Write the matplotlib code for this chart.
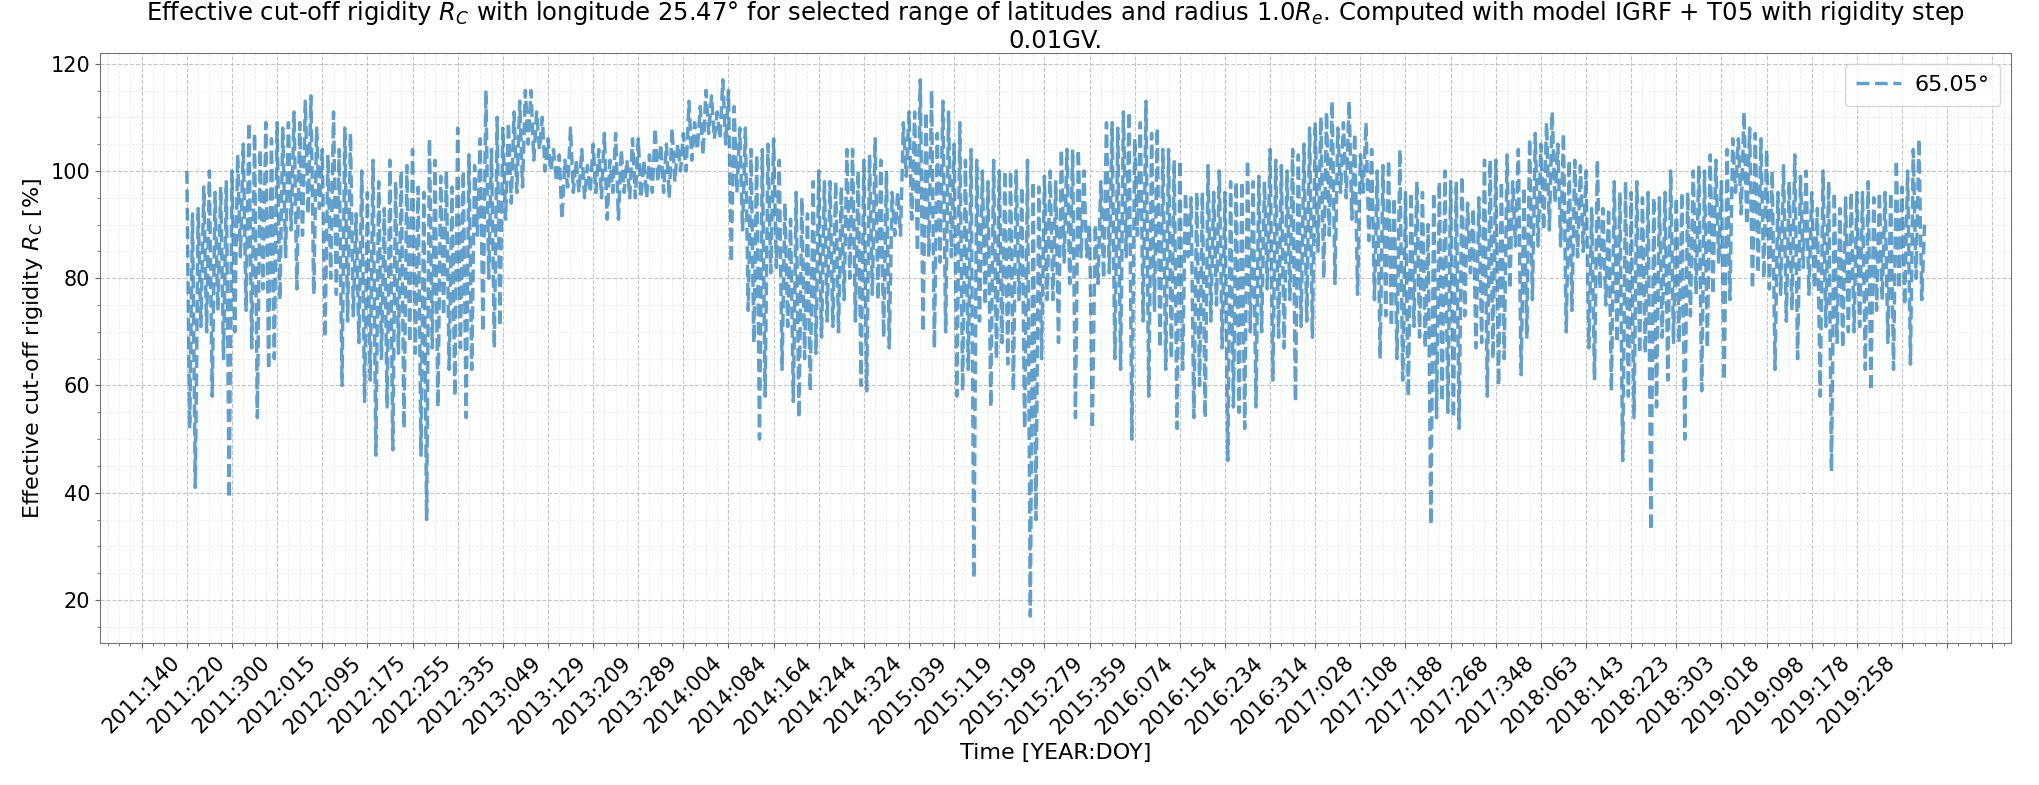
import numpy as np
import matplotlib
matplotlib.use("Agg")
import matplotlib.pyplot as plt
from matplotlib.ticker import AutoMinorLocator

# effective cut-off rigidity [%], one reading every 5 days (upper / lower swing)
step_days = 5
rc_values = [
    100, 52, 92, 41, 93, 71, 97, 70, 100, 58, 96, 74, 97, 65, 98, 39,
    100, 70, 103, 84, 105, 74, 109, 67, 107, 54, 104, 78, 109, 63, 106, 65,
    109, 76, 108, 84, 109, 89, 111, 78, 109, 88, 113, 92, 114, 77, 108, 93,
    104, 69, 103, 80, 111, 77, 104, 60, 108, 72, 107, 73, 92, 68, 100, 57,
    96, 61, 102, 47, 98, 65, 93, 56, 102, 48, 98, 66, 100, 52, 101, 68,
    104, 66, 97, 47, 96, 35, 106, 67, 102, 56, 99, 73, 100, 63, 97, 58,
    108, 67, 100, 54, 103, 63, 101, 88, 106, 70, 115, 80, 104, 67, 110, 71,
    108, 91, 109, 94, 111, 96, 113, 97, 115, 105, 115, 102, 111, 104, 110, 100,
    106, 100, 104, 98, 103, 91, 102, 97, 108, 96, 102, 96, 104, 95, 101, 96,
    105, 96, 104, 95, 107, 91, 102, 96, 107, 91, 104, 96, 102, 95, 106, 95,
    106, 95, 102, 95, 103, 96, 108, 98, 105, 96, 105, 95, 108, 98, 105, 100,
    107, 100, 113, 102, 109, 104, 112, 103, 115, 107, 114, 106, 111, 106, 117, 105,
    115, 83, 112, 96, 108, 89, 108, 74, 104, 68, 103, 50, 104, 58, 105, 81,
    106, 82, 102, 63, 94, 71, 91, 57, 96, 54, 95, 65, 92, 59, 98, 66,
    100, 69, 98, 72, 98, 71, 98, 70, 97, 76, 104, 80, 104, 72, 100, 60,
    102, 59, 103, 77, 106, 76, 102, 69, 100, 67, 96, 88, 96, 88, 109, 99,
    111, 91, 111, 85, 117, 70, 111, 84, 115, 67, 107, 83, 113, 70, 111, 84,
    105, 58, 109, 59, 102, 63, 104, 24, 102, 72, 100, 75, 98, 56, 102, 65,
    100, 68, 100, 64, 100, 59, 100, 76, 97, 52, 102, 17, 98, 35, 97, 65,
    99, 76, 100, 76, 98, 68, 104, 83, 104, 79, 104, 54, 104, 84, 100, 84,
    90, 52, 90, 79, 98, 80, 109, 81, 109, 65, 108, 63, 111, 84, 111, 50,
    106, 88, 109, 72, 113, 58, 107, 74, 108, 67, 104, 63, 104, 65, 102, 52,
    102, 63, 96, 84, 95, 54, 96, 60, 96, 54, 101, 72, 96, 75, 100, 67,
    96, 46, 98, 56, 98, 55, 98, 52, 102, 70, 98, 56, 99, 70, 98, 78,
    104, 61, 102, 69, 101, 67, 100, 76, 104, 57, 103, 71, 105, 72, 108, 69,
    109, 85, 110, 80, 111, 88, 113, 79, 108, 96, 109, 95, 113, 91, 107, 77,
    103, 96, 109, 87, 104, 76, 100, 65, 101, 73, 102, 71, 95, 65, 104, 61,
    96, 58, 96, 71, 98, 69, 96, 67, 90, 34, 96, 54, 98, 57, 100, 55,
    98, 54, 98, 52, 99, 73, 94, 81, 93, 67, 95, 68, 102, 58, 102, 65,
    102, 60, 98, 65, 103, 78, 98, 86, 104, 62, 97, 69, 106, 76, 107, 86,
    105, 89, 109, 89, 111, 94, 105, 86, 107, 70, 102, 74, 102, 84, 101, 85,
    100, 67, 93, 61, 102, 78, 93, 75, 93, 59, 98, 68, 96, 46, 98, 58,
    96, 54, 98, 66, 95, 66, 96, 33, 95, 56, 95, 69, 96, 61, 100, 68,
    95, 68, 96, 50, 96, 73, 100, 77, 101, 59, 100, 67, 103, 77, 102, 83,
    98, 61, 104, 76, 106, 96, 106, 92, 111, 90, 108, 78, 107, 81, 106, 80,
    104, 78, 100, 63, 96, 77, 101, 72, 98, 74, 103, 65, 99, 82, 100, 77,
    96, 78, 93, 58, 100, 71, 98, 44, 96, 68, 93, 67, 95, 70, 96, 70,
    96, 71, 96, 63, 98, 59, 95, 74, 96, 76, 96, 68, 96, 63, 102, 78,
    97, 75, 100, 64, 104, 80, 106, 76, 90,
]

tick_labels = [
    "2011:140", "2011:220", "2011:300", "2012:015", "2012:095", "2012:175",
    "2012:255", "2012:335", "2013:049", "2013:129", "2013:209", "2013:289",
    "2014:004", "2014:084", "2014:164", "2014:244", "2014:324", "2015:039",
    "2015:119", "2015:199", "2015:279", "2015:359", "2016:074", "2016:154",
    "2016:234", "2016:314", "2017:028", "2017:108", "2017:188", "2017:268",
    "2017:348", "2018:063", "2018:143", "2018:223", "2018:303", "2019:018",
    "2019:098", "2019:178", "2019:258",
]
tick_step = 80
latitude_label = "65.05°"

days = np.arange(len(rc_values)) * step_days

fig, ax = plt.subplots(figsize=(20.4, 7.85), dpi=100)
fig.subplots_adjust(left=0.049, right=0.986, bottom=0.181, top=0.9325)

ax.plot(days, rc_values, linestyle="--", color="tab:blue", alpha=0.7,
        linewidth=2.5, label=latitude_label)

ticks = np.arange(-tick_step, days[-1] + 2 * tick_step, tick_step)
labels = tick_labels + [""] * (len(ticks) - len(tick_labels))
ax.set_xticks(ticks)
ax.set_xticklabels(labels, rotation=45, fontsize=15)
ax.tick_params(axis="y", labelsize=15)
ax.xaxis.set_minor_locator(AutoMinorLocator(4))
ax.yaxis.set_minor_locator(AutoMinorLocator(4))
ax.tick_params(which="both", color="0.4")

ax.grid(which="major", linestyle="--", color="#c4c4c4", linewidth=0.8)
ax.grid(which="minor", linestyle="--", color="#ececec", linewidth=0.6)
for s in ax.spines.values():
    s.set_color("0.45")

ax.set_xlabel("Time [YEAR:DOY]", fontsize=16)
ax.set_ylabel("Effective cut-off rigidity $R_C$ [%]", fontsize=16)
ax.set_title("Effective cut-off rigidity $R_C$ with longitude 25.47° for selected range "
             "of latitudes and radius 1.0$R_e$. Computed with model IGRF + T05 with rigidity step\n0.01GV.",
             fontsize=17.5, pad=0.5, linespacing=1.1)
ax.legend(loc="upper right", fontsize=16, handletextpad=0.6, borderpad=0.5)

fig.savefig("out.png", dpi=100)
